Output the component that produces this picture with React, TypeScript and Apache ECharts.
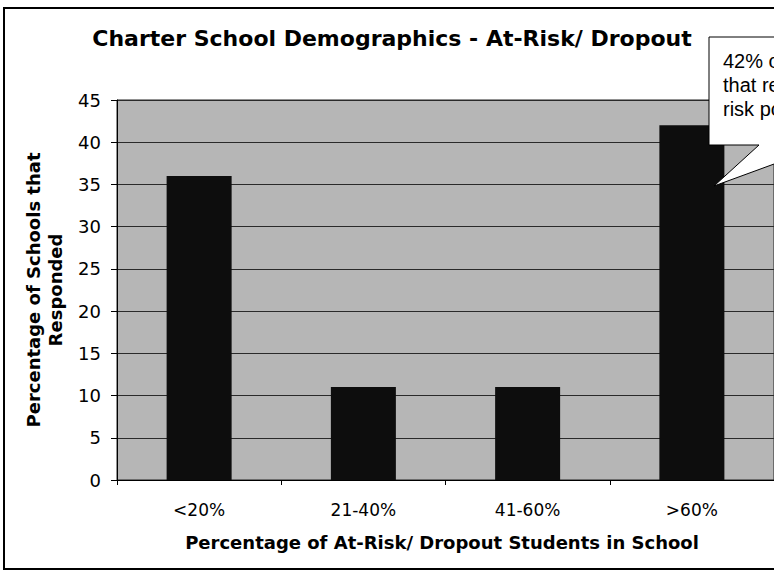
import React, { useEffect, useRef } from "react";
import * as echarts from "echarts";

const categories = ["<20%", "21-40%", "41-60%", ">60%"];
const values = [36, 11, 11, 42];
const yTicks = { min: 0, max: 45, interval: 5 };
const titleText = "Charter School Demographics - At-Risk/ Dropout";
const xAxisTitle = "Percentage of At-Risk/ Dropout Students in School";
const yAxisTitle = ["Percentage of Schools that", "Responded"];
const calloutLines = ["42% of schools", "that reported at-", "risk populations"];

const FONT = "'DejaVu Sans', Verdana, sans-serif";

export default function App() {
  const ref = useRef<HTMLDivElement>(null);
  useEffect(() => {
    if (!ref.current) return;
    const chart = echarts.init(ref.current, null, { renderer: "svg" });
    chart.setOption({
      animation: false,
      backgroundColor: "#ffffff",
      grid: { left: 117, top: 100, width: 658, height: 380, show: true, backgroundColor: "#b6b6b6", borderColor: "#222", borderWidth: 1 },
      xAxis: {
        type: "category",
        data: categories,
        axisLine: { lineStyle: { color: "#000", width: 1 } },
        axisTick: { show: true, length: 5, lineStyle: { color: "#000" } },
        axisLabel: { color: "#000", fontFamily: FONT, fontSize: 17, margin: 21 },
      },
      yAxis: {
        type: "value",
        min: yTicks.min,
        max: yTicks.max,
        interval: yTicks.interval,
        axisLine: { show: true, lineStyle: { color: "#000", width: 1 } },
        axisTick: { show: true, length: 6, lineStyle: { color: "#000" } },
        axisLabel: { color: "#000", fontFamily: FONT, fontSize: 18, margin: 16 },
        splitLine: { show: true, lineStyle: { color: "#2a2a2a", width: 1 } },
      },
      series: [
        {
          type: "bar",
          data: values,
          barWidth: 65,
          itemStyle: { color: "#0d0d0d" },
        },
      ],
      graphic: [
        {
          type: "rect",
          shape: { x: 4, y: 8, width: 800, height: 561 },
          style: { fill: "none", stroke: "#000", lineWidth: 2 },
          silent: true,
          z: 100,
        },
        {
          type: "text",
          x: 392,
          y: 38,
          style: { text: titleText, font: `bold 22px ${FONT}`, fill: "#000", textAlign: "center", textVerticalAlign: "middle" },
        },
        {
          type: "text",
          x: 442,
          y: 542,
          style: { text: xAxisTitle, font: `bold 18px ${FONT}`, fill: "#000", textAlign: "center", textVerticalAlign: "middle" },
        },
        {
          type: "text",
          x: 44,
          y: 290,
          rotation: Math.PI / 2,
          style: { text: yAxisTitle.join("\n"), font: `bold 18px ${FONT}`, fill: "#000", textAlign: "center", textVerticalAlign: "middle", lineHeight: 22 },
        },
        {
          type: "polygon",
          shape: { points: [[709, 37], [840, 37], [840, 145], [826, 145], [714, 186], [759, 145], [709, 145]] },
          style: { fill: "#fff", stroke: "#000", lineWidth: 1 },
          z: 50,
        },
        {
          type: "text",
          x: 723,
          y: 49,
          z: 51,
          style: { text: calloutLines.join("\n"), font: `20px 'Liberation Sans', Arial, sans-serif`, fill: "#000", lineHeight: 24, textAlign: "left", textVerticalAlign: "top" },
        },
      ],
    });
    return () => chart.dispose();
  }, []);
  return <div ref={ref} style={{ position: "fixed", left: 0, top: 0, width: 774, height: 572 }} />;
}
